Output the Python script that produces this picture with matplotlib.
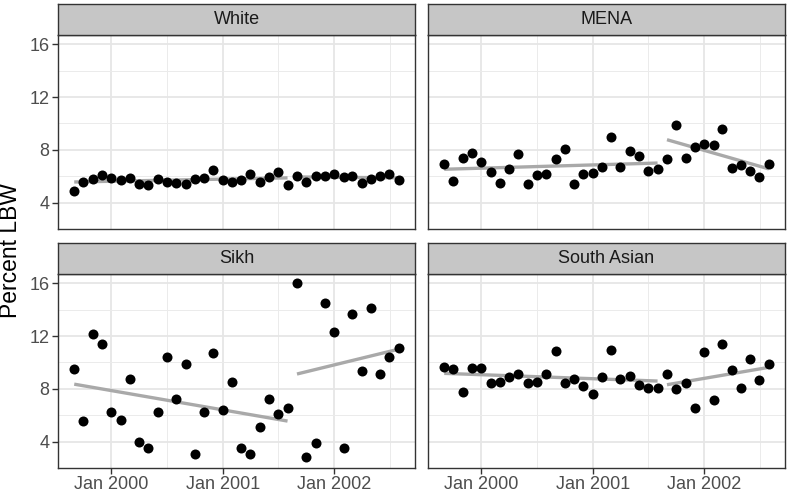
import numpy as np
import pandas as pd
import matplotlib
matplotlib.use("Agg")
import matplotlib.pyplot as plt
import matplotlib.dates as mdates

# monthly percent low birth weight, Sep 1999 - Aug 2002
months = pd.date_range("1999-09-01", periods=36, freq="MS")
break_month = pd.Timestamp("2001-09-01")

white = [4.9, 5.6, 5.8, 6.1, 5.9, 5.7, 5.9, 5.4, 5.3, 5.8, 5.55, 5.5,
         5.4, 5.8, 5.85, 6.45, 5.7, 5.6, 5.7, 6.2, 5.6, 5.95, 6.3, 5.3,
         6.0, 5.6, 6.05, 6.0, 6.2, 5.95, 6.0, 5.5, 5.8, 6.0, 6.15, 5.7]
mena = [6.95, 5.65, 7.4, 7.78, 7.08, 6.3, 5.48, 6.53, 7.7, 5.38, 6.1, 6.15,
        7.28, 8.03, 5.38, 6.18, 6.23, 6.73, 8.95, 6.68, 7.93, 7.55, 6.4, 6.53,
        7.3, 9.9, 7.4, 8.18, 8.48, 8.38, 9.55, 6.65, 6.85, 6.43, 5.93, 6.95]
sikh = [9.5, 5.55, 12.13, 11.4, 6.23, 5.65, 8.75, 3.98, 3.48, 6.23, 10.43, 7.25,
        9.85, 3.05, 6.23, 10.73, 6.4, 8.5, 3.55, 3.08, 5.13, 7.25, 6.1, 6.53,
        16.05, 2.85, 3.88, 14.5, 12.28, 3.5, 13.68, 9.35, 14.1, 9.1, 10.43, 11.1]
south_asian = [9.68, 9.5, 7.78, 9.6, 9.6, 8.48, 8.5, 8.9, 9.15, 8.48, 8.5, 9.1,
               10.88, 8.48, 8.75, 8.18, 7.58, 8.9, 10.93, 8.78, 8.95, 8.33, 8.1, 8.1,
               9.13, 8.0, 8.43, 6.55, 10.8, 7.13, 11.38, 9.43, 8.03, 10.25, 8.68, 9.85]

groups = ["White", "MENA", "Sikh", "South Asian"]
series = [white, mena, sikh, south_asian]

plt.rcParams["font.family"] = ["Liberation Sans", "DejaVu Sans"]

fig = plt.figure(figsize=(7.89, 4.93), dpi=100)

W, H = 789, 493
lefts = [58, 428]
pw = 357
rows = [(35, 229, 4), (274, 468, 243)]  # plot top, plot bottom, strip top

xnum = mdates.date2num(months)
all_vals = np.concatenate([np.array(s) for s in series])
ymin, ymax = all_vals.min(), all_vals.max()
ypad = 0.05 * (ymax - ymin)
xpad = 0.05 * (xnum[-1] - xnum[0])

major_x = mdates.date2num(pd.to_datetime(["2000-01-01", "2001-01-01", "2002-01-01"]))
minor_x = mdates.date2num(pd.to_datetime(["2000-07-02", "2001-07-02", "2002-07-02"]))

pre = months < break_month

for i, (name, vals) in enumerate(zip(groups, series)):
    r, c = divmod(i, 2)
    top, bot, stop = rows[r]
    x0 = lefts[c]
    ax = fig.add_axes([x0 / W, 1 - bot / H, pw / W, (bot - top) / H])
    sax = fig.add_axes([x0 / W, 1 - top / H, pw / W, (top - stop) / H])

    ax.set_facecolor("white")
    ax.set_xlim(xnum[0] - xpad, xnum[-1] + xpad)
    ax.set_ylim(ymin - ypad, ymax + ypad)
    ax.set_yticks([4, 8, 12, 16])
    ax.set_yticks([2, 6, 10, 14], minor=True)
    ax.set_xticks(major_x)
    ax.set_xticks(minor_x, minor=True)
    ax.grid(True, which="major", color="#E6E6E6", linewidth=1.3, zorder=0)
    ax.grid(True, which="minor", color="#EBEBEB", linewidth=0.7, zorder=0)
    ax.set_axisbelow(True)
    ax.tick_params(which="minor", length=0)
    ax.tick_params(which="major", length=4, width=1.0, color="#333333",
                   labelsize=13, labelcolor="#4D4D4D", pad=2)
    for sp in ax.spines.values():
        sp.set_color("#333333")
        sp.set_linewidth(1.0)

    if r == 1:
        ax.set_xticklabels(["Jan 2000", "Jan 2001", "Jan 2002"])
    else:
        ax.set_xticklabels([])
        ax.tick_params(axis="x", length=0)
    if c == 0:
        ax.set_yticklabels(["4", "8", "12", "16"])
    else:
        ax.set_yticklabels([])
        ax.tick_params(axis="y", length=0)

    v = np.array(vals)
    for mask in (pre, ~pre):
        xs = xnum[mask]
        b, a = np.polyfit(xs, v[mask], 1)
        ax.plot([xs[0], xs[-1]], [a + b * xs[0], a + b * xs[-1]],
                color="#A9A9A9", linewidth=2.4, solid_capstyle="butt", zorder=2)
    ax.scatter(xnum, v, s=52, color="black", linewidths=0, zorder=3)

    sax.set_facecolor("#C6C6C6")
    sax.set_xticks([])
    sax.set_yticks([])
    for sp in sax.spines.values():
        sp.set_color("#333333")
        sp.set_linewidth(1.0)
    sax.text(0.5, 0.5, name, ha="center", va="center", fontsize=13,
             color="#1A1A1A", transform=sax.transAxes)

fig.text(11 / W, 1 - 251 / H, "Percent LBW", rotation=90, ha="center",
         va="center", fontsize=16.5)

fig.savefig("out.png", dpi=100)
